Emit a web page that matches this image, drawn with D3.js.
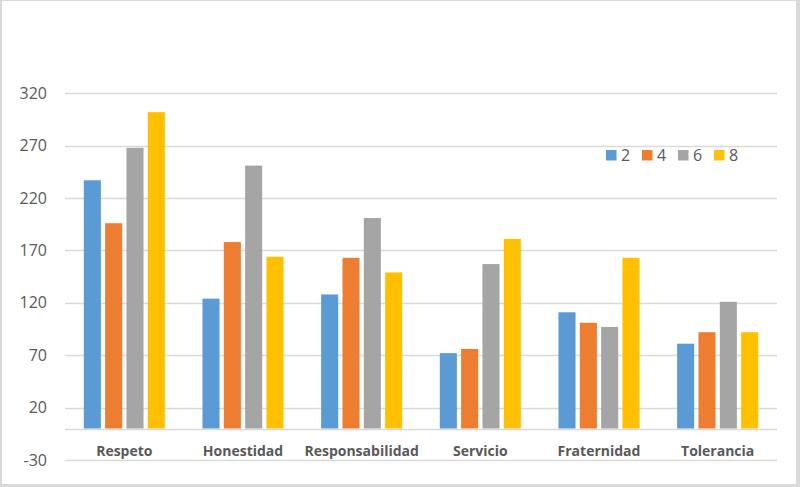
<!DOCTYPE html>
<html>
<head>
<meta charset="utf-8">
<script src="https://cdn.jsdelivr.net/npm/d3@7/dist/d3.min.js"></script>
<style>
  html, body { margin: 0; padding: 0; background: #fff; }
  svg { display: block; }
</style>
</head>
<body>
<svg id="chart" width="800" height="487"></svg>
<script>
const categories = ["Respeto", "Honestidad", "Responsabilidad", "Servicio", "Fraternidad", "Tolerancia"];
const seriesNames = ["2", "4", "6", "8"];
const series2 = [237, 124, 128, 72, 111, 81];
const series4 = [196, 178, 163, 76, 101, 92];
const series6 = [268, 251, 201, 157, 97, 121];
const series8 = [302, 164, 149, 181, 163, 92];
const yTicks = [-30, 20, 70, 120, 170, 220, 270, 320];
const colors = ["#5b9bd5", "#ed7d31", "#a5a5a5", "#ffc000"];

const allSeries = [series2, series4, series6, series8];
const svg = d3.select("#chart");
const W = 800, H = 487;

// border / background
svg.append("rect").attr("x", 0).attr("y", 0).attr("width", W).attr("height", H).attr("fill", "#d9d9d9");
svg.append("rect").attr("x", 2).attr("y", 1).attr("width", 794).attr("height", 483).attr("fill", "#ffffff");

const left = 65, right = 777;
const y = d3.scaleLinear().domain([-30, 320]).range([460, 93.3]);
const x0 = d3.scaleBand().domain(categories).range([left, right]).paddingInner(0.317).paddingOuter(0.1585);
const x1 = d3.scaleBand().domain(seriesNames).range([0, x0.bandwidth()]).paddingInner(0.2);

// gridlines
svg.append("g").selectAll("line").data(yTicks).join("line")
  .attr("x1", left).attr("x2", right)
  .attr("y1", d => Math.round(y(d)) + 0.5).attr("y2", d => Math.round(y(d)) + 0.5)
  .attr("stroke", "#d9d9d9").attr("stroke-width", 1.3);

// y labels
svg.append("g").selectAll("text").data(yTicks).join("text")
  .attr("x", 47).attr("y", d => y(d)).attr("dy", "0.35em")
  .attr("text-anchor", "end")
  .attr("font-family", "'Open Sans', 'Noto Sans', sans-serif")
  .attr("font-size", 16).attr("fill", "#595959")
  .text(d => d);

// bars
const groups = svg.append("g").selectAll("g").data(categories).join("g")
  .attr("transform", d => `translate(${x0(d)},0)`);
groups.selectAll("rect").data((c, ci) => seriesNames.map((s, si) => ({ s, si, v: allSeries[si][ci] })))
  .join("rect")
  .attr("x", d => x1(d.s))
  .attr("width", x1.bandwidth())
  .attr("y", d => y(d.v))
  .attr("height", d => y(0) - y(d.v))
  .attr("fill", d => colors[d.si]);

// zero axis line
svg.append("line").attr("x1", left).attr("x2", right)
  .attr("y1", Math.round(y(0)) + 0.5).attr("y2", Math.round(y(0)) + 0.5)
  .attr("stroke", "#d9d9d9").attr("stroke-width", 1.3);

// category labels
svg.append("g").selectAll("text").data(categories).join("text")
  .attr("x", d => x0(d) + x0.bandwidth() / 2).attr("y", 451).attr("dy", "0.35em")
  .attr("text-anchor", "middle")
  .attr("font-family", "'Open Sans', 'Noto Sans', sans-serif")
  .attr("font-weight", 700)
  .attr("font-size", 14).attr("fill", "#595959")
  .text(d => d);

// legend
const legend = svg.append("g").attr("transform", "translate(606,155)");
const li = legend.selectAll("g").data(seriesNames).join("g")
  .attr("transform", (d, i) => `translate(${i * 36},0)`);
li.append("rect").attr("x", 0).attr("y", -5).attr("width", 10.5).attr("height", 10.5)
  .attr("fill", (d, i) => colors[i]);
li.append("text").attr("x", 15).attr("y", 0).attr("dy", "0.36em")
  .attr("font-family", "'Open Sans', 'Noto Sans', sans-serif")
  .attr("font-size", 16).attr("fill", "#595959")
  .text(d => d);
</script>
</body>
</html>
